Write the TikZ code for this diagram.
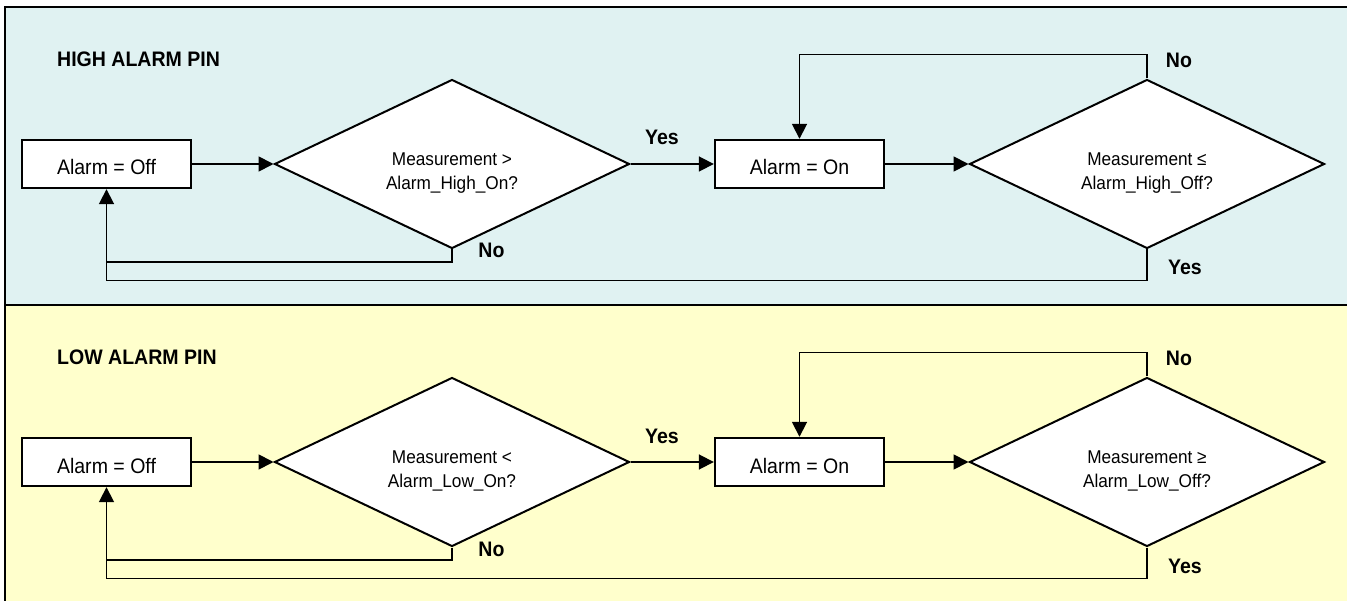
\documentclass[tikz,border=0pt]{standalone}
\usepackage{fontspec}
\setmainfont[FakeStretch=0.93]{Liberation Sans}
\definecolor{HighPanel}{HTML}{E0F2F2}
\definecolor{LowPanel}{HTML}{FFFFCC}
\usetikzlibrary{
  arrows.meta,
  shapes.geometric
}

\begin{document}
\begin{tikzpicture}[
  x=1pt, y=-1pt,
  alarmbox/.style={
    rectangle, draw, fill=white, line width=2.4pt,
    minimum width=169pt, minimum height=48pt,
    font=\fontsize{21}{24}\selectfont,
    text height=22pt, text depth=0pt
  },
  decision/.style={
    diamond, draw, fill=white, line width=2pt,
    minimum width=355pt, minimum height=169pt,
    inner sep=0pt
  },
  query/.style={
    font=\fontsize{18.5}{24}\selectfont,
    align=center, inner sep=0pt
  },
  answer/.style={
    font=\fontsize{21}{24}\selectfont\bfseries,
    anchor=base, inner sep=0pt
  },
  pinlabel/.style={
    font=\fontsize{21}{24}\selectfont\bfseries,
    anchor=base west, inner sep=0pt
  },
  flow/.style={
    line width=1.8pt,
    -{Triangle[length=15pt,width=15pt]}
  },
  backline/.style={line width=1.8pt}
]
  \useasboundingbox (0,0) rectangle (1347,601);

  % Panels
  \fill[HighPanel] (5,7) rectangle (1347,305);
  \fill[LowPanel] (5,305) rectangle (1347,601);
  \draw[line width=2.5pt] (1347,7) -- (5,7) -- (5,601);
  \draw[line width=2.5pt] (5,305) -- (1347,305);

  % High alarm pin
  \node[pinlabel] (hipin) at (57,67) {HIGH ALARM PIN};
  \node[alarmbox] (hioff) at (106.5,164) {Alarm = Off};
  \node[decision] (hicheck) at (452,164) {};
  \node[query] (hiquery) at ([yshift=-9pt]hicheck.center)
    {Measurement >\\Alarm\_High\_On?};
  \node[alarmbox] (hion) at (799.5,164) {Alarm = On};
  \node[decision] (hicheckoff) at (1147,164) {};
  \node[query] (hiqueryoff) at ([yshift=-9pt]hicheckoff.center)
    {Measurement ≤\\Alarm\_High\_Off?};

  \draw[flow] (hioff) -- (hicheck);
  \draw[flow] (hicheck) -- (hion);
  \draw[flow] (hion) -- (hicheckoff);
  \coordinate (hijoin) at (106.5,262);
  \draw[flow] (hicheck.south) |- (hijoin) -- (hioff.south);
  \draw[backline] (hicheckoff.south) -- ++(0,31) -| (hijoin);
  \draw[flow] (hicheckoff.north) -- ++(0,-24) -| (hion.north);

  \node[answer] (hiyes) at (662,145) {Yes};
  \node[answer] (hino) at (491.5,258) {No};
  \node[answer] (hinooff) at (1179,68) {No};
  \node[answer] (hiyesoff) at (1185,275) {Yes};

  % Low alarm pin
  \node[pinlabel] (lopin) at (57,365) {LOW ALARM PIN};
  \node[alarmbox] (looff) at (106.5,462) {Alarm = Off};
  \node[decision] (locheck) at (452,462) {};
  \node[query] (loquery) at ([yshift=-9pt]locheck.center)
    {Measurement <\\Alarm\_Low\_On?};
  \node[alarmbox] (loon) at (799.5,462) {Alarm = On};
  \node[decision] (locheckoff) at (1147,462) {};
  \node[query] (loqueryoff) at ([yshift=-9pt]locheckoff.center)
    {Measurement ≥\\Alarm\_Low\_Off?};

  \draw[flow] (looff) -- (locheck);
  \draw[flow] (locheck) -- (loon);
  \draw[flow] (loon) -- (locheckoff);
  \coordinate (lojoin) at (106.5,560);
  \draw[flow] (locheck.south) |- (lojoin) -- (looff.south);
  \draw[backline] (locheckoff.south) -- ++(0,31) -| (lojoin);
  \draw[flow] (locheckoff.north) -- ++(0,-24) -| (loon.north);

  \node[answer] (loyes) at (662,443) {Yes};
  \node[answer] (lono) at (491.5,556) {No};
  \node[answer] (lonooff) at (1179,366) {No};
  \node[answer] (loyesoff) at (1185,573) {Yes};
\end{tikzpicture}
\end{document}
